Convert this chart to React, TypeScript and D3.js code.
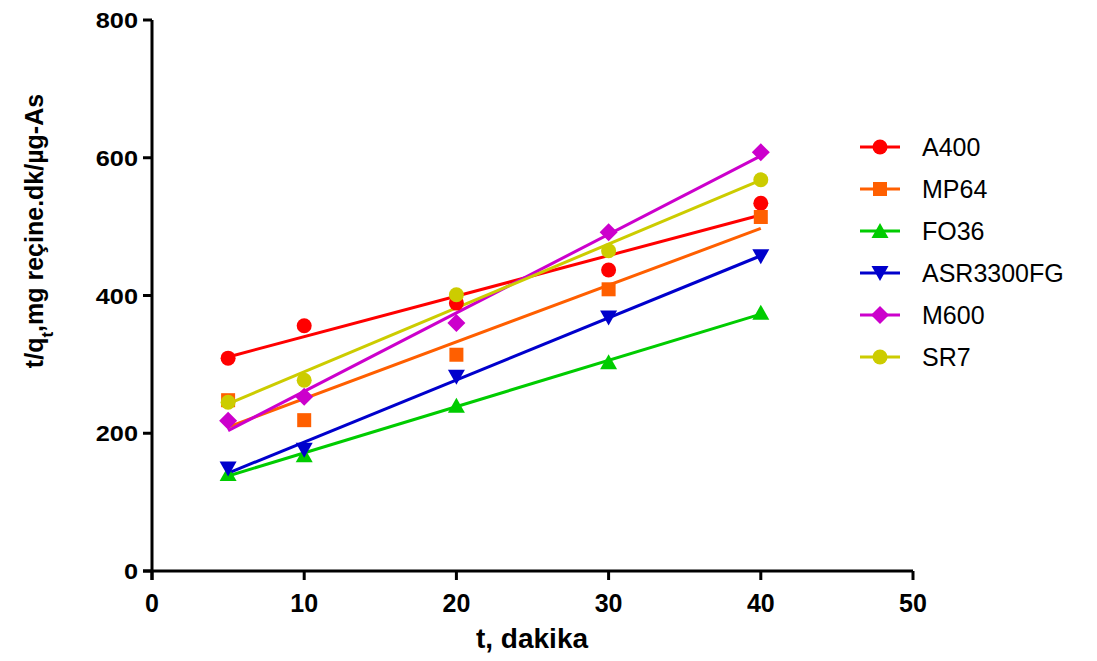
import React from "react";
import * as d3 from "d3";

// Contact time (minutes)
const times = [5, 10, 20, 30, 40];

// t/q_t values per resin
const seriesNames = ["A400", "MP64", "FO36", "ASR3300FG", "M600", "SR7"];
const a400 = [309, 356, 389, 437, 534];
const mp64 = [248, 219, 314, 409, 514];
const fo36 = [141, 168, 240, 303, 375];
const asr3300fg = [149, 176, 282, 368, 457];
const m600 = [218, 253, 360, 492, 608];
const sr7 = [245, 277, 401, 465, 568];

const seriesColors = ["#FF0000", "#FF5F00", "#00CC00", "#0000CC", "#CC00CC", "#CCCC00"];
const seriesShapes = ["circle", "square", "triangleUp", "triangleDown", "diamond", "circle"];

const xTicks = [0, 10, 20, 30, 40, 50];
const yTicks = [0, 200, 400, 600, 800];

const allSeries = [a400, mp64, fo36, asr3300fg, m600, sr7];

const W = 1097;
const H = 661;
const left = 152;
const right = 913;
const top = 20;
const bottom = 571;

const x = d3.scaleLinear().domain([0, 50]).range([left, right]);
const y = d3.scaleLinear().domain([0, 800]).range([bottom, top]);

// least-squares straight line through a series
function fit(xs: number[], ys: number[]) {
  const mx = d3.mean(xs)!;
  const my = d3.mean(ys)!;
  let sxy = 0;
  let sxx = 0;
  xs.forEach((v, i) => {
    sxy += (v - mx) * (ys[i] - my);
    sxx += (v - mx) * (v - mx);
  });
  const slope = sxy / sxx;
  return (t: number) => my + slope * (t - mx);
}

function Marker({ shape, cx, cy, color }: { shape: string; cx: number; cy: number; color: string }) {
  if (shape === "circle") return <circle cx={cx} cy={cy} r={7.5} fill={color} />;
  if (shape === "square") return <rect x={cx - 7} y={cy - 7} width={14} height={14} fill={color} />;
  if (shape === "triangleUp")
    return <path d={`M${cx},${cy - 8}L${cx + 8.5},${cy + 7}L${cx - 8.5},${cy + 7}Z`} fill={color} />;
  if (shape === "triangleDown")
    return <path d={`M${cx},${cy + 8}L${cx + 8.5},${cy - 7}L${cx - 8.5},${cy - 7}Z`} fill={color} />;
  return <path d={`M${cx},${cy - 9}L${cx + 9},${cy}L${cx},${cy + 9}L${cx - 9},${cy}Z`} fill={color} />;
}

const FONT = "Liberation Sans, Arial, sans-serif";

export default function App() {
  const tMin = d3.min(times)!;
  const tMax = d3.max(times)!;
  const legendY0 = 147;
  const legendStep = 42;
  return (
    <svg width={W} height={H} style={{ position: "absolute", left: 0, top: 0 }}>
      <rect width={W} height={H} fill="#fff" />
      {/* fitted lines */}
      {allSeries.map((vals, i) => {
        const f = fit(times, vals);
        return (
          <line
            key={"l" + i}
            x1={x(tMin)}
            y1={y(f(tMin))}
            x2={x(tMax)}
            y2={y(f(tMax))}
            stroke={seriesColors[i]}
            strokeWidth={3}
          />
        );
      })}
      {/* data points */}
      {allSeries.map((vals, i) =>
        vals.map((v, j) => (
          <Marker key={`m${i}-${j}`} shape={seriesShapes[i]} cx={x(times[j])} cy={y(v)} color={seriesColors[i]} />
        ))
      )}
      {/* axes */}
      <g stroke="#000" strokeWidth={3} fill="none">
        <line x1={left} y1={top} x2={left} y2={bottom + 9} />
        <line x1={left - 9} y1={bottom} x2={right} y2={bottom} />
        {yTicks.map((t) => (
          <line key={"yt" + t} x1={left - 9} x2={left} y1={y(t)} y2={y(t)} />
        ))}
        {xTicks.map((t) => (
          <line key={"xt" + t} x1={x(t)} x2={x(t)} y1={bottom} y2={bottom + 9} />
        ))}
      </g>
      <g fontFamily={FONT} fontWeight="bold" fontSize={22} fill="#000">
        {yTicks.map((t) => (
          <text
            key={"yl" + t}
            transform={`translate(${left - 14},${y(t) + 8}) scale(1.15,1)`}
            textAnchor="end"
          >
            {t}
          </text>
        ))}
      </g>
      <g fontFamily={FONT} fontWeight="bold" fontSize={25} fill="#000">
        {xTicks.map((t) => (
          <text key={"xl" + t} x={x(t)} y={bottom + 41} textAnchor="middle">
            {t}
          </text>
        ))}
        <text x={532} y={648} textAnchor="middle" fontSize={28}>
          t, dakika
        </text>
      </g>
      <text
        transform="translate(43,231) rotate(-90)"
        textAnchor="middle"
        fontFamily={FONT}
        fontWeight="bold"
        fontSize={25}
        fill="#000"
      >
        t/q<tspan baselineShift="sub" fontSize={17}>t</tspan>,mg reçine.dk/µg-As
      </text>
      {/* legend */}
      {seriesNames.map((name, i) => {
        const ly = legendY0 + i * legendStep;
        return (
          <g key={"lg" + i}>
            <line x1={860} x2={900} y1={ly} y2={ly} stroke={seriesColors[i]} strokeWidth={3} />
            <Marker shape={seriesShapes[i]} cx={880} cy={ly} color={seriesColors[i]} />
            <text x={922} y={ly} dy="0.36em" fontFamily={FONT} fontSize={25} fill="#000">
              {name}
            </text>
          </g>
        );
      })}
    </svg>
  );
}
